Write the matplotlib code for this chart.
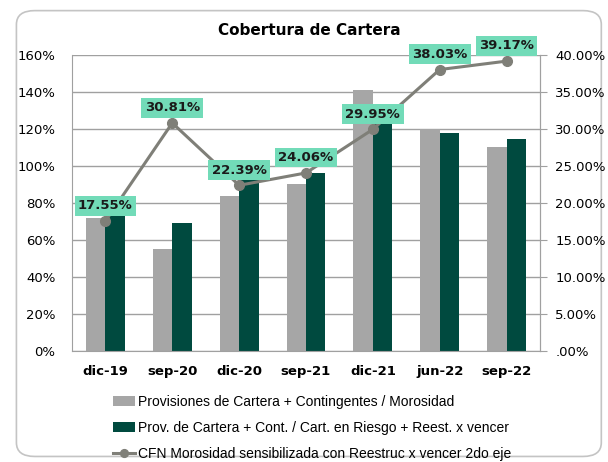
import matplotlib
matplotlib.use("Agg")
import matplotlib.pyplot as plt
from matplotlib.patches import FancyBboxPatch

# datos del grafico
periodos = ["dic-19", "sep-20", "dic-20", "sep-21", "dic-21", "jun-22", "sep-22"]
provisiones = [72, 55, 84, 90, 141, 120, 110]        # % gris
prov_riesgo = [76, 69, 93, 96, 124, 118, 114.5]      # % verde
morosidad = [17.55, 30.81, 22.39, 24.06, 29.95, 38.03, 39.17]  # % 2do eje
ticks_izq = [0, 20, 40, 60, 80, 100, 120, 140, 160]
ticks_der = [0, 5, 10, 15, 20, 25, 30, 35, 40]
etq_der = [".00%", "5.00%", "10.00%", "15.00%", "20.00%", "25.00%", "30.00%", "35.00%", "40.00%"]

gris = "#a6a6a6"
verde = "#004a3f"
linea = "#7f7f78"
caja = "#72dbb8"

plt.rcParams['font.family'] = ['DejaVu Sans']

fig = plt.figure(figsize=(6.08, 4.62), dpi=100)

# marco redondeado
marco = FancyBboxPatch((0.027, 0.012), 0.962, 0.965, boxstyle="round,pad=0,rounding_size=0.03",
                       transform=fig.transFigure, facecolor="white", edgecolor="#c4c4c4",
                       lw=1.2, zorder=-5)
fig.patches.append(marco)

ax = fig.add_axes([0.1184, 0.2403, 0.7697, 0.6407])
ax.set_facecolor("none")
x = list(range(len(periodos)))
w = 0.29
ax.bar([i - w / 2 for i in x], provisiones, width=w, color=gris, zorder=2,
       label="Provisiones de Cartera + Contingentes / Morosidad")
ax.bar([i + w / 2 for i in x], prov_riesgo, width=w, color=verde, zorder=2,
       label="Prov. de Cartera + Cont. / Cart. en Riesgo + Reest. x vencer")
ax.set_xlim(-0.5, len(periodos) - 0.5)
ax.set_ylim(0, 160)
ax.set_yticks(ticks_izq)
ax.set_yticklabels([f"{t}%" for t in ticks_izq], fontsize=9.5)
ax.set_xticks(x)
ax.set_xticklabels(periodos, fontsize=9.5, fontweight="bold")
ax.tick_params(axis="y", length=0, pad=12)
ax.tick_params(axis="x", length=0, pad=10)
ax.yaxis.grid(True, color="#a0a0a0", lw=1, zorder=0)
ax.set_axisbelow(True)
for s in ["left", "bottom", "right"]:
    ax.spines[s].set_color("#a0a0a0")
ax.spines["top"].set_visible(False)

ax2 = ax.twinx()
ax2.plot(x, morosidad, color=linea, lw=2.2, marker="o", markersize=7, zorder=5,
         label="CFN Morosidad sensibilizada con Reestruc x vencer 2do eje")
ax2.set_ylim(0, 40)
ax2.set_yticks(ticks_der)
ax2.set_yticklabels(etq_der, fontsize=9.5)
ax2.tick_params(axis="y", length=5, color="#a0a0a0", direction="out", pad=6)
for s in ["left", "bottom", "top"]:
    ax2.spines[s].set_visible(False)
ax2.spines["right"].set_color("#a0a0a0")

for xi, v in zip(x, morosidad):
    ax2.annotate(f"{v:.2f}%", (xi, v), xytext=(0, 11), textcoords="offset points",
                 ha="center", va="center", fontsize=9.5, fontweight="bold", color="#1a1a1a",
                 bbox=dict(boxstyle="square,pad=0.25", facecolor=caja, edgecolor="none"),
                 zorder=6)

fig.text(0.509, 0.935, "Cobertura de Cartera", ha="center", va="center",
         fontsize=11, fontweight="bold")

h1, l1 = ax.get_legend_handles_labels()
h2, l2 = ax2.get_legend_handles_labels()
fig.legend(h1 + h2, l1 + l2, loc="upper left", bbox_to_anchor=(0.177, 0.157),
           frameon=False, labelspacing=0.85, handlelength=1.6,
           handletextpad=0.2, borderaxespad=0, markerscale=0.8,
           prop={'family': ['Liberation Sans', 'DejaVu Sans'], 'size': 10})

fig.savefig("out.png", dpi=100)
